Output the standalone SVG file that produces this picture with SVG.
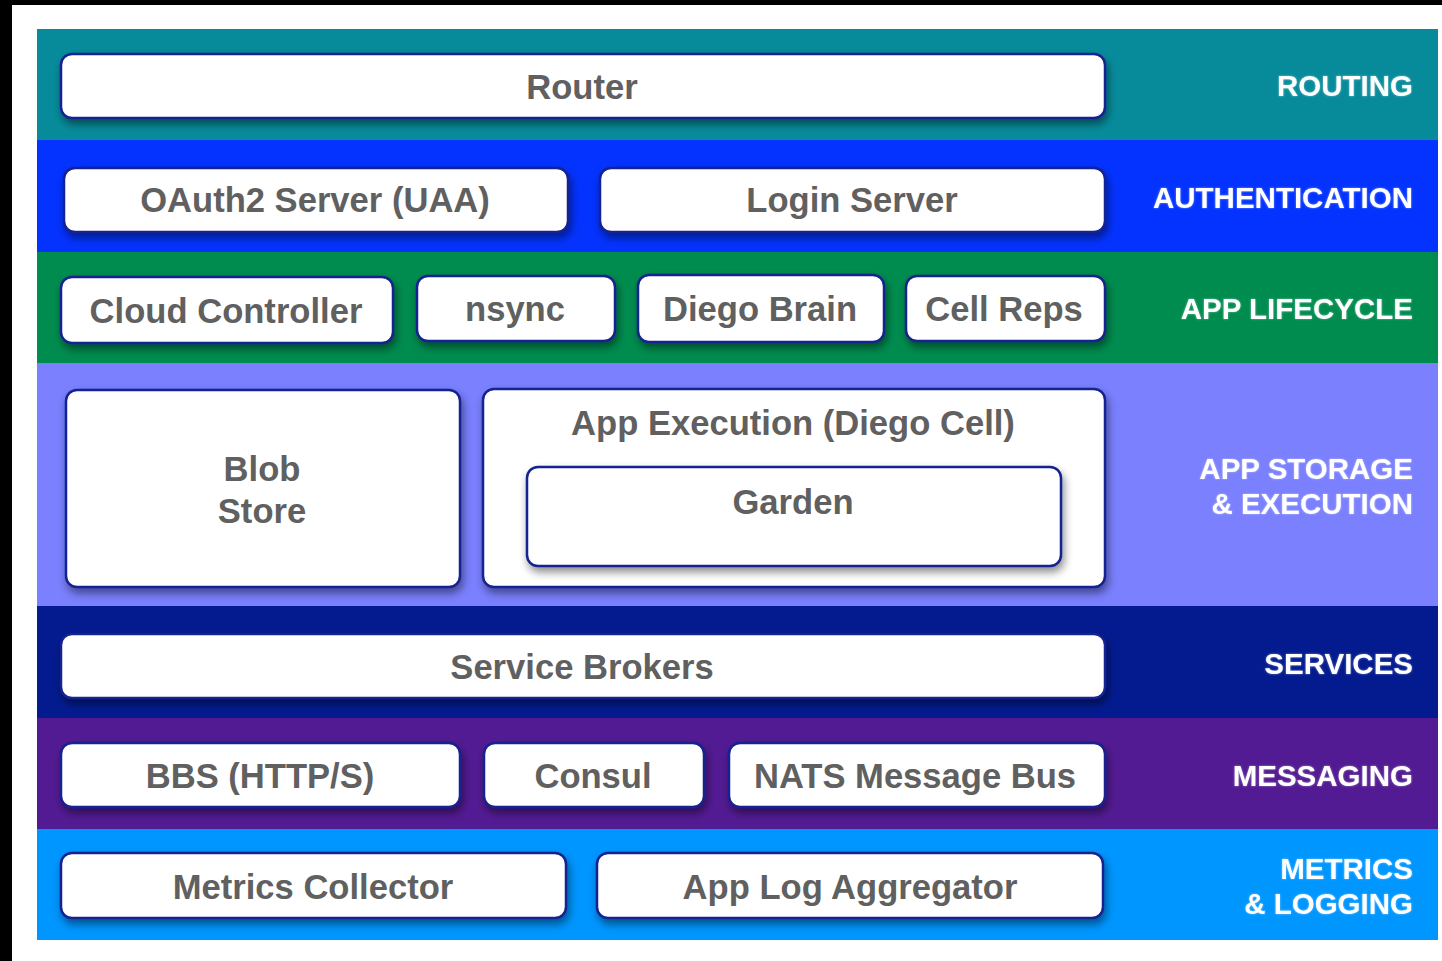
<svg xmlns="http://www.w3.org/2000/svg" width="1442" height="961" viewBox="0 0 1442 961">
<defs>
<filter id="sh" x="-10%" y="-30%" width="120%" height="170%">
<feDropShadow dx="2" dy="5" stdDeviation="4" flood-color="#000" flood-opacity="0.45"/>
</filter>
<filter id="glow" x="-5%" y="-30%" width="110%" height="160%">
<feGaussianBlur in="SourceAlpha" stdDeviation="1.2" result="b"/>
<feFlood flood-color="#ffffff" flood-opacity="0.45"/>
<feComposite in2="b" operator="in" result="g"/>
<feMerge><feMergeNode in="g"/><feMergeNode in="SourceGraphic"/></feMerge>
</filter>
</defs>
<style>
.box{fill:#ffffff;stroke:#16208f;stroke-width:2.5;filter:url(#sh)}
.t{font-family:"Liberation Sans",Arial,sans-serif;font-weight:bold;font-size:34.6px;fill:#606060;text-anchor:middle;dominant-baseline:central}
.lbl{font-family:"Liberation Sans",Arial,sans-serif;font-weight:bold;font-size:29.5px;fill:#ffffff;text-anchor:end;dominant-baseline:central;filter:url(#glow)}
</style>
<rect x="0" y="0" width="1442" height="961" fill="#ffffff"/>
<rect x="0" y="0" width="12" height="961" fill="#000000"/>
<rect x="0" y="0" width="1442" height="5" fill="#000000"/>
<g id="bands">
<rect x="37" y="29" width="1401" height="111" fill="#078b9b"/>
<rect x="37" y="140" width="1401" height="112" fill="#0433ff"/>
<rect x="37" y="252" width="1401" height="111" fill="#008c4f"/>
<rect x="37" y="363" width="1401" height="243" fill="#7a80fe"/>
<rect x="37" y="606" width="1401" height="112" fill="#031b8f"/>
<rect x="37" y="718" width="1401" height="111" fill="#531b93"/>
<rect x="37" y="829" width="1401" height="111" fill="#0096ff"/>
</g>
<g id="labels">
<text class="lbl" x="1413" y="85">ROUTING</text>
<text class="lbl" x="1413" y="197">AUTHENTICATION</text>
<text class="lbl" x="1413" y="308">APP LIFECYCLE</text>
<text class="lbl" x="1413" y="468">APP STORAGE</text>
<text class="lbl" x="1413" y="503">&amp; EXECUTION</text>
<text class="lbl" x="1413" y="663">SERVICES</text>
<text class="lbl" x="1413" y="775">MESSAGING</text>
<text class="lbl" x="1413" y="868">METRICS</text>
<text class="lbl" x="1413" y="903">&amp; LOGGING</text>
</g>
<g id="router"><rect class="box" x="61" y="54" width="1044" height="64" rx="11"/><text class="t" x="582" y="87">Router</text></g>
<g id="oauth2"><rect class="box" x="64" y="168" width="504" height="64" rx="11"/><text class="t" x="315" y="200">OAuth2 Server (UAA)</text></g>
<g id="login"><rect class="box" x="600" y="168" width="505" height="64" rx="11"/><text class="t" x="852" y="200">Login Server</text></g>
<g id="cloud-controller"><rect class="box" x="61" y="277" width="332" height="66" rx="11"/><text class="t" x="226" y="311">Cloud Controller</text></g>
<g id="nsync"><rect class="box" x="417" y="276" width="198" height="65" rx="11"/><text class="t" x="515" y="309">nsync</text></g>
<g id="diego-brain"><rect class="box" x="638" y="275" width="246" height="67" rx="11"/><text class="t" x="760" y="309">Diego Brain</text></g>
<g id="cell-reps"><rect class="box" x="906" y="276" width="199" height="65" rx="11"/><text class="t" x="1004" y="309">Cell Reps</text></g>
<g id="blob-store"><rect class="box" x="66" y="390" width="394" height="197" rx="11"/><text class="t" x="262" y="469">Blob</text><text class="t" x="262" y="511">Store</text></g>
<g id="app-execution"><rect class="box" x="483" y="389" width="622" height="198" rx="11"/><text class="t" x="793" y="423">App Execution (Diego Cell)</text></g>
<g id="garden"><rect class="box" x="527" y="467" width="534" height="99" rx="11"/><text class="t" x="793" y="502">Garden</text></g>
<g id="service-brokers"><rect class="box" x="61" y="634" width="1044" height="64" rx="11"/><text class="t" x="582" y="667">Service Brokers</text></g>
<g id="bbs"><rect class="box" x="61" y="743" width="399" height="64" rx="11"/><text class="t" x="260" y="776">BBS (HTTP/S)</text></g>
<g id="consul"><rect class="box" x="484" y="743" width="220" height="64" rx="11"/><text class="t" x="593" y="776">Consul</text></g>
<g id="nats"><rect class="box" x="729" y="743" width="376" height="64" rx="11"/><text class="t" x="915" y="776">NATS Message Bus</text></g>
<g id="metrics-collector"><rect class="box" x="61" y="853" width="505" height="65" rx="11"/><text class="t" x="313" y="887">Metrics Collector</text></g>
<g id="app-log-aggregator"><rect class="box" x="597" y="853" width="506" height="65" rx="11"/><text class="t" x="850" y="887">App Log Aggregator</text></g>
<g id="connectors"></g>
</svg>
